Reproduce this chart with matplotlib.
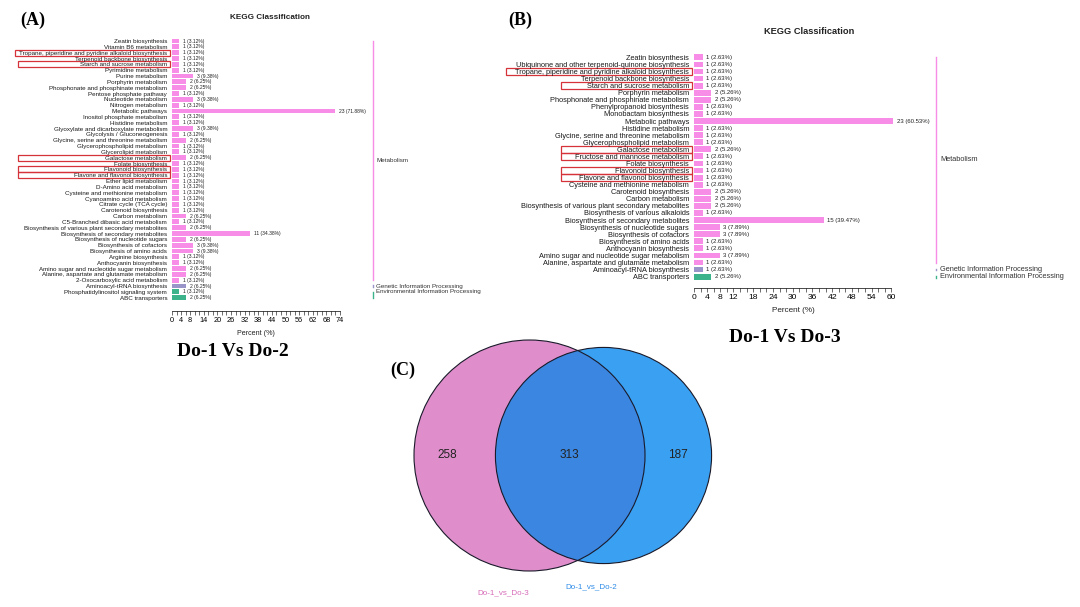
import numpy as np
import matplotlib.pyplot as plt
from matplotlib.patches import Circle, Rectangle
from matplotlib.transforms import blended_transform_factory

plt.rcParams['font.family'] = ['Liberation Sans', 'DejaVu Sans']

W, H = 1080, 607

# ---- panel A : Do-1 vs Do-2 ----
a_terms = ["Zeatin biosynthesis", "Vitamin B6 metabolism",
           "Tropane, piperidine and pyridine alkaloid biosynthesis",
           "Terpenoid backbone biosynthesis", "Starch and sucrose metabolism",
           "Pyrimidine metabolism", "Purine metabolism", "Porphyrin metabolism",
           "Phosphonate and phosphinate metabolism", "Pentose phosphate pathway",
           "Nucleotide metabolism", "Nitrogen metabolism", "Metabolic pathways",
           "Inositol phosphate metabolism", "Histidine metabolism",
           "Glyoxylate and dicarboxylate metabolism", "Glycolysis / Gluconeogenesis",
           "Glycine, serine and threonine metabolism", "Glycerophospholipid metabolism",
           "Glycerolipid metabolism", "Galactose metabolism", "Folate biosynthesis",
           "Flavonoid biosynthesis", "Flavone and flavonol biosynthesis",
           "Ether lipid metabolism", "D-Amino acid metabolism",
           "Cysteine and methionine metabolism", "Cyanoamino acid metabolism",
           "Citrate cycle (TCA cycle)", "Carotenoid biosynthesis", "Carbon metabolism",
           "C5-Branched dibasic acid metabolism",
           "Biosynthesis of various plant secondary metabolites",
           "Biosynthesis of secondary metabolites", "Biosynthesis of nucleotide sugars",
           "Biosynthesis of cofactors", "Biosynthesis of amino acids",
           "Arginine biosynthesis", "Anthocyanin biosynthesis",
           "Amino sugar and nucleotide sugar metabolism",
           "Alanine, aspartate and glutamate metabolism",
           "2-Oxocarboxylic acid metabolism", "Aminoacyl-tRNA biosynthesis",
           "Phosphatidylinositol signaling system", "ABC transporters"]
a_counts = [1, 1, 1, 1, 1, 1, 3, 2, 2, 1, 3, 1, 23, 1, 1, 3, 1, 2, 1, 1, 2, 1, 1, 1,
            1, 1, 1, 1, 1, 1, 2, 1, 2, 11, 2, 3, 3, 1, 1, 2, 2, 1, 2, 1, 2]
a_class = ["M"] * 42 + ["G", "E", "E"]
a_total = 32
a_boxed = ["Tropane, piperidine and pyridine alkaloid biosynthesis",
           "Starch and sucrose metabolism", "Galactose metabolism",
           "Flavonoid biosynthesis", "Flavone and flavonol biosynthesis"]
a_ticks = [0, 4, 8, 14, 20, 26, 32, 38, 44, 50, 56, 62, 68, 74]

# ---- panel B : Do-1 vs Do-3 ----
b_terms = ["Zeatin biosynthesis", "Ubiquinone and other terpenoid-quinone biosynthesis",
           "Tropane, piperidine and pyridine alkaloid biosynthesis",
           "Terpenoid backbone biosynthesis", "Starch and sucrose metabolism",
           "Porphyrin metabolism", "Phosphonate and phosphinate metabolism",
           "Phenylpropanoid biosynthesis", "Monobactam biosynthesis",
           "Metabolic pathways", "Histidine metabolism",
           "Glycine, serine and threonine metabolism", "Glycerophospholipid metabolism",
           "Galactose metabolism", "Fructose and mannose metabolism",
           "Folate biosynthesis", "Flavonoid biosynthesis",
           "Flavone and flavonol biosynthesis", "Cysteine and methionine metabolism",
           "Carotenoid biosynthesis", "Carbon metabolism",
           "Biosynthesis of various plant secondary metabolites",
           "Biosynthesis of various alkaloids", "Biosynthesis of secondary metabolites",
           "Biosynthesis of nucleotide sugars", "Biosynthesis of cofactors",
           "Biosynthesis of amino acids", "Anthocyanin biosynthesis",
           "Amino sugar and nucleotide sugar metabolism",
           "Alanine, aspartate and glutamate metabolism",
           "Aminoacyl-tRNA biosynthesis", "ABC transporters"]
b_counts = [1, 1, 1, 1, 1, 2, 2, 1, 1, 23, 1, 1, 1, 2, 1, 1, 1, 1, 1, 2, 2, 2, 1, 15,
            3, 3, 1, 1, 3, 1, 1, 2]
b_class = ["M"] * 30 + ["G", "E"]
b_total = 38
b_boxed = ["Tropane, piperidine and pyridine alkaloid biosynthesis",
           "Starch and sucrose metabolism", "Galactose metabolism",
           "Fructose and mannose metabolism", "Flavonoid biosynthesis",
           "Flavone and flavonol biosynthesis"]
b_ticks = [0, 4, 8, 12, 18, 24, 30, 36, 42, 48, 54, 60]

class_names = {"M": "Metabolism", "G": "Genetic Information Processing",
               "E": "Environmental Information Processing"}
class_colors = {"M": "#F78DE6", "G": "#9A95C8", "E": "#3DB38C"}

# ---- panel C : venn ----
venn_names = ["Do-1_vs_Do-3", "Do-1_vs_Do-2"]
venn_only = [258, 187]
venn_shared = 313

fig = plt.figure(figsize=(W / 100, H / 100), dpi=100)


def px_axes(left, top, right, bottom):
    return fig.add_axes([left / W, 1 - bottom / H, (right - left) / W, (bottom - top) / H])


def kegg_panel(ax, terms, counts, classes, total, boxed, ticks, xmax,
               fs, vfs, spine_out, class_x, box_x0, box_x0_first, title_y):
    n = len(terms)
    y = np.arange(n)
    pct = np.array(counts) / total * 100
    cols = [class_colors[c] for c in classes]
    ax.barh(y, pct, height=0.82, color=cols)
    for yi, c, p in zip(y, counts, pct):
        ax.annotate(f"{c} ({p:.2f}%)", (p, yi), xytext=(2.5, 0), textcoords="offset points",
                    va="center", ha="left", fontsize=vfs, color="#222222")
    ax.set_ylim(n - 0.5, -0.5)
    ax.set_xlim(0, xmax)
    ax.set_yticks(y)
    ax.set_yticklabels(terms, fontsize=fs, color="#1a1a1a")
    ax.tick_params(axis="y", length=0, pad=3.5)
    ax.set_xticks(ticks)
    ax.set_xticks(np.arange(0, ticks[-1] + 1, 2), minor=True)
    ax.tick_params(axis="x", which="both", length=3, width=0.5, labelsize=fs + 0.8,
                   pad=1.5, color="#333333")
    ax.set_xlabel("Percent (%)", fontsize=fs + 0.6, labelpad=4, color="#222222")
    for s in ["top", "right", "left"]:
        ax.spines[s].set_visible(False)
    ax.spines["bottom"].set_position(("outward", spine_out))
    ax.spines["bottom"].set_linewidth(0.5)
    ax.spines["bottom"].set_bounds(0, ticks[-1])

    tr = blended_transform_factory(ax.transAxes, ax.transData)
    # category brackets on the right
    for key in ["M", "G", "E"]:
        rows = [i for i, c in enumerate(classes) if c == key]
        y0, y1 = min(rows), max(rows)
        if y0 == y1:
            y0, y1 = y0 - 0.12, y1 + 0.12
        ax.plot([class_x, class_x], [y0, y1], transform=tr, clip_on=False,
                color=class_colors[key], lw=1.0)
        ym = np.mean(rows)
        if key == "E" and len(rows) > 1:
            ym = rows[0] - 0.1
        ax.text(class_x + 0.02, ym, class_names[key],
                transform=tr, fontsize=fs, va="center", ha="left", color="#333333")
    # red boxes on highlighted terms
    for t in boxed:
        i = terms.index(t)
        x0 = box_x0_first if t.startswith("Tropane") else box_x0
        ax.add_patch(Rectangle((x0, i - 0.5), -0.012 - x0, 1.0, transform=tr,
                               fill=False, ec="#D6323A", lw=0.9, clip_on=False))
    ax.text(0.58, title_y, "KEGG Classification", transform=ax.transAxes,
            ha="center", va="center", fontsize=fs + 1.4, fontweight="bold",
            color="#222222")


axA = px_axes(172, 38.1, 340, 300.6)
kegg_panel(axA, a_terms, a_counts, a_class, a_total, a_boxed, a_ticks, 74,
           fs=4.5, vfs=3.6, spine_out=7.5, class_x=1.196,
           box_x0=-0.917, box_x0_first=-0.935, title_y=1.077)

axB = px_axes(694, 53.8, 893, 280.2)
kegg_panel(axB, b_terms, b_counts, b_class, b_total, b_boxed, b_ticks, 60.5,
           fs=5.3, vfs=4.3, spine_out=5.6, class_x=1.216,
           box_x0=-0.668, box_x0_first=-0.945, title_y=1.10)

# panel letters and comparison titles
serif = ["Liberation Serif", "DejaVu Serif"]
fig.text(20 / W, 1 - 20 / H, "(A)", family=serif, fontweight="bold", fontsize=13,
         va="center", ha="left")
fig.text(508 / W, 1 - 20 / H, "(B)", family=serif, fontweight="bold", fontsize=13,
         va="center", ha="left")
fig.text(390 / W, 1 - 370 / H, "(C)", family=serif, fontweight="bold", fontsize=13,
         va="center", ha="left")
fig.text(233 / W, 1 - 352 / H, "Do-1 Vs Do-2", family=serif, fontweight="bold",
         fontsize=14, va="center", ha="center")
fig.text(785 / W, 1 - 338 / H, "Do-1 Vs Do-3", family=serif, fontweight="bold",
         fontsize=14, va="center", ha="center")

# venn diagram, area proportional to the set sizes
axV = px_axes(380, 330, 760, 600)
axV.set_xlim(0, 380)
axV.set_ylim(0, 270)
axV.axis("off")
k = 115.5 / np.sqrt(venn_only[0] + venn_shared)
r1 = k * np.sqrt(venn_only[0] + venn_shared)
r2 = k * np.sqrt(venn_only[1] + venn_shared)
c1 = (149.5, 144.5)
c2 = (149.5 + 74, 144.5)
left = Circle(c1, r1, fc="#DF8ECB", ec="none")
right = Circle(c2, r2, fc="#3AA0F2", ec="none")
axV.add_patch(left)
axV.add_patch(right)
lens = Circle(c2, r2, fc="#3B86E0", ec="none")
axV.add_patch(lens)
lens.set_clip_path(left)
axV.add_patch(Circle(c1, r1, fill=False, ec="#1a1a2a", lw=0.8))
axV.add_patch(Circle(c2, r2, fill=False, ec="#1a1a2a", lw=0.8))
axV.text(67, 145, str(venn_only[0]), ha="center", va="center", fontsize=8.5, color="#222222")
axV.text(189, 145, str(venn_shared), ha="center", va="center", fontsize=8.5, color="#222222")
axV.text(298, 145, str(venn_only[1]), ha="center", va="center", fontsize=8.5, color="#222222")
axV.text(123, 7, venn_names[0], ha="center", va="center", fontsize=5.8, color="#D76BB8")
axV.text(211, 13, venn_names[1], ha="center", va="center", fontsize=5.8, color="#2D8BE8")

fig.savefig("out.png", dpi=100, facecolor="white")
